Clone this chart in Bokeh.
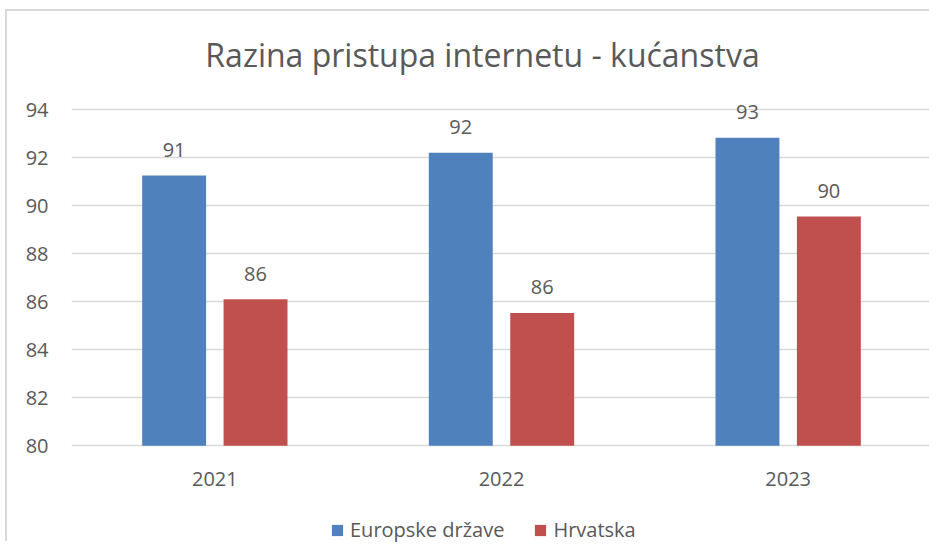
from bokeh.plotting import figure
from bokeh.models import (ColumnDataSource, FactorRange, Range1d, FixedTicker, Legend,
                          LegendItem, LabelSet, Label)
from bokeh.core.properties import value
from bokeh.transform import dodge
from bokeh.embed import file_html
from bokeh.resources import INLINE

# ---- data ----
years = ["2021", "2022", "2023"]
europske = [91.25, 92.2, 92.82]
hrvatska = [86.1, 85.53, 89.55]
y_ticks = [80, 82, 84, 86, 88, 90, 92, 94]
title_text = "Razina pristupa internetu - kućanstva"
series_names = ["Europske države", "Hrvatska"]
colors = ["#4F81BD", "#C0504D"]

FONT = "Open Sans"
TXT = "#595959"
Y0, Y1 = y_ticks[0], y_ticks[-1]

src = ColumnDataSource(dict(
    years=years,
    eu=europske,
    hr=hrvatska,
    eu_lbl=[f"{v:.0f}" for v in europske],
    hr_lbl=[f"{v:.0f}" for v in hrvatska],
    base=[Y0] * len(years),
))

p = figure(width=924, height=532, x_range=FactorRange(*years, range_padding=0),
           y_range=Range1d(75.933, 98.08), output_backend="svg", toolbar_location=None,
           min_border_left=64, min_border_right=0, min_border_top=0, min_border_bottom=0,
           styles={"margin-left": "5px", "margin-top": "9px",
                   "border-left": "2px solid #D9D9D9", "border-top": "2px solid #D9D9D9"})
p.outline_line_color = None
p.background_fill_color = "white"
p.border_fill_color = "white"

off = 0.142
w = 0.223
r1 = p.vbar(x=dodge("years", -off, range=p.x_range), top="eu", bottom=Y0, width=w,
            source=src, fill_color=colors[0], line_color=None)
r2 = p.vbar(x=dodge("years", off, range=p.x_range), top="hr", bottom=Y0, width=w,
            source=src, fill_color=colors[1], line_color=None)

for col, lbl, dx in (("eu", "eu_lbl", -off), ("hr", "hr_lbl", off)):
    p.add_layout(LabelSet(x=dodge("years", dx, range=p.x_range), y=col, text=lbl, source=src,
                          text_align="center", text_baseline="alphabetic", y_offset=18.5,
                          text_font=value(FONT), text_font_size=value("20px"),
                          text_color=TXT))

# category labels under the baseline
p.add_layout(LabelSet(x="years", y="base", text="years", source=src,
                      text_align="center", text_baseline="alphabetic", y_offset=-39.7,
                      text_font=value(FONT), text_font_size=value("20px"), text_color=TXT))

# title
p.add_layout(Label(x=1.5, y=Y1, x_offset=-19, y_offset=55, text=title_text,
                   text_align="center", text_baseline="alphabetic",
                   text_font=FONT, text_font_size="32px", text_color=TXT))

# axes
p.xaxis.visible = False
p.yaxis.ticker = FixedTicker(ticks=y_ticks)
p.yaxis.axis_line_color = None
p.yaxis.major_tick_line_color = None
p.yaxis.minor_tick_line_color = None
p.yaxis.major_tick_out = 0
p.yaxis.major_tick_in = 0
p.yaxis.major_label_standoff = 23
p.yaxis.major_label_text_font = FONT
p.yaxis.major_label_text_font_size = "20px"
p.yaxis.major_label_text_color = TXT

p.xgrid.grid_line_color = None
p.ygrid.grid_line_color = "#D9D9D9"
p.ygrid.grid_line_width = 1.4

legend = Legend(items=[LegendItem(label=series_names[0], renderers=[r1]),
                       LegendItem(label=series_names[1], renderers=[r2])],
                location=(259, 0), orientation="horizontal",
                glyph_width=14, glyph_height=14, label_standoff=6, spacing=29,
                padding=0, margin=0, border_line_color=None, background_fill_alpha=0,
                label_text_font=FONT, label_text_font_size="20px", label_text_color=TXT)
p.add_layout(legend, "center")

open("out.html", "w").write(file_html(p, INLINE))
